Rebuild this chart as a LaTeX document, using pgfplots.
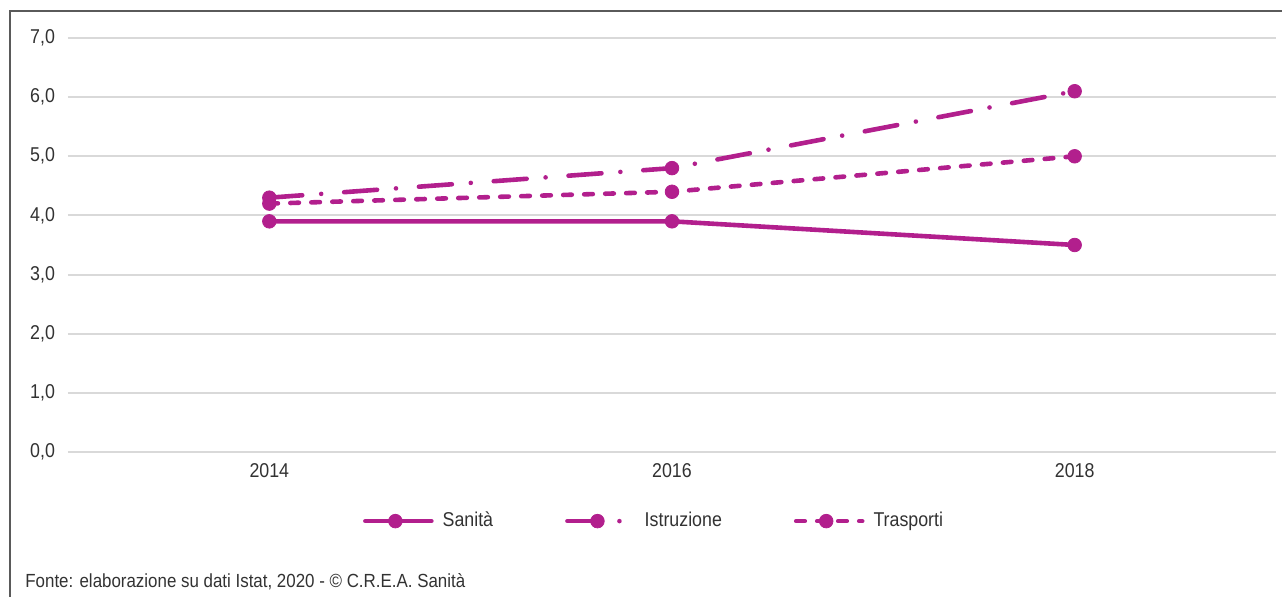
\documentclass[border=0pt]{standalone}
\usepackage{fontspec}
\setmainfont{Liberation Sans}[FakeStretch=0.89]
\usepackage{pgfplots}
\pgfplotsset{compat=1.18}
\definecolor{mag}{RGB}{178,31,141}
\definecolor{gridc}{RGB}{217,217,217}
\definecolor{framec}{RGB}{90,90,90}
\definecolor{txt}{RGB}{50,50,50}
\begin{document}
\begin{tikzpicture}
\path[use as bounding box] (0,0) rectangle (641pt,298.5pt);
\draw[framec, line width=0.75pt] (5pt,0pt) -- (5pt,293pt) -- (641pt,293pt);
\begin{axis}[
  at={(34pt,72.5pt)}, anchor=south west,
  scale only axis, width=604pt, height=207pt,
  xmin=-0.5, xmax=2.5, ymin=0, ymax=7,
  axis line style={draw=none},
  xtick={0,1,2}, xticklabels={2014,2016,2018},
  ytick={0,1,...,7},
  ymajorgrids, grid style={gridc, line width=1pt},
  major tick length=0pt,
  tick label style={font=\fontsize{10pt}{12pt}\selectfont, text=txt},
  yticklabel style={/pgf/number format/fixed, /pgf/number format/fixed zerofill, /pgf/number format/precision=1, /pgf/number format/use comma, /pgf/number format/assume math mode=true, xshift=-3pt},
  xticklabel style={/pgf/number format/assume math mode=true, yshift=-2pt},
  legend columns=3,
  legend style={at={(axis description cs:0.486,-0.167)}, anchor=center, draw=none, fill=none,
    font=\fontsize{10pt}{12pt}\selectfont, text=txt,
    /tikz/every even column/.append style={column sep=34pt}},
  legend image code/.code={\draw[#1, mark repeat=2, mark phase=2] plot coordinates {(0pt,0pt) (15pt,0pt) (33pt,0pt)};},
]
\addplot[mag, line width=2.3pt, line cap=round, mark=*, mark size=3.4pt, mark options={solid, fill=mag, draw=mag, line width=0.4pt}, solid] coordinates {(0,3.9) (1,3.9) (2,3.5)};
\addlegendentry{\hspace{2.5pt}Sanità}
\addplot[mag, line width=2.3pt, line cap=round, mark=*, mark size=3.4pt, mark options={solid, fill=mag, draw=mag, line width=0.4pt}, dash pattern=on 16.5pt off 9.5pt on 0pt off 11.5pt] coordinates {(0,4.3) (1,4.8) (2,6.1)};
\addlegendentry{\hspace{2.5pt}Istruzione}
\addplot[mag, line width=2.3pt, line cap=round, mark=*, mark size=3.4pt, mark options={solid, fill=mag, draw=mag, line width=0.4pt}, dash pattern=on 4.3pt off 6.2pt] coordinates {(0,4.2) (1,4.4) (2,5.0)};
\addlegendentry{\hspace{2.5pt}Trasporti}
\end{axis}
\node[anchor=base west, text=txt, font=\fontsize{9.5pt}{11pt}\selectfont, inner sep=0pt] at (12.5pt,4.5pt) {Fonte: elaborazione su dati Istat, 2020 - © C.R.E.A. Sanità};
\end{tikzpicture}
\end{document}
